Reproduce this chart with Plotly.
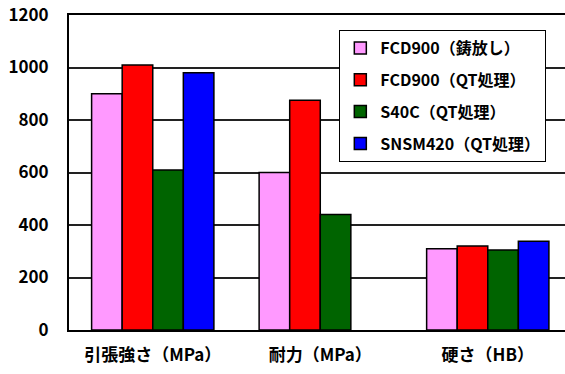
import plotly.graph_objects as go

# Mechanical properties by material
categories = ["引張強さ（MPa）", "耐力（MPa）", "硬さ（HB）"]
series_names = ["FCD900（鋳放し）", "FCD900（QT処理）", "S40C（QT処理）", "SNSM420（QT処理）"]
fcd900_cast = [900, 600, 310]
fcd900_qt = [1010, 875, 320]
s40c_qt = [610, 440, 305]
snsm420_qt = [980, None, 338]
series_colors = ["#ff99ff", "#ff0000", "#006400", "#0000ff"]
y_ticks = [0, 200, 400, 600, 800, 1000, 1200]

font_family = "Noto Sans CJK JP"

fig = go.Figure()
for i, (name, vals, color) in enumerate(
    zip(series_names, [fcd900_cast, fcd900_qt, s40c_qt, snsm420_qt], series_colors)
):
    fig.add_trace(
        go.Bar(
            x=categories,
            y=vals,
            name=name,
            legendgroup=f"g{i}",
            marker=dict(color=color, line=dict(color="black", width=1.5)),
        )
    )

fig.update_layout(
    width=565,
    height=374,
    margin=dict(l=69, r=0, t=15, b=44),
    paper_bgcolor="white",
    plot_bgcolor="white",
    barmode="group",
    bargap=0.27,
    bargroupgap=0,
    font=dict(family=font_family, color="black", size=16),
    showlegend=True,
    legend=dict(
        x=0.545,
        y=0.952,
        xanchor="left",
        yanchor="top",
        bgcolor="white",
        bordercolor="black",
        borderwidth=1,
        font=dict(family=font_family, size=16, color="black", weight="bold"),
        traceorder="grouped",
        tracegroupgap=8,
        itemwidth=30,
    ),
)

fig.update_xaxes(
    range=[-0.5, 2.461],
    showline=True,
    linecolor="black",
    linewidth=2,
    mirror=True,
    ticks="",
    tickfont=dict(family=font_family, size=17, weight="bold"),
    ticklabelstandoff=9,
    showgrid=False,
)

fig.update_yaxes(
    range=[0, 1200],
    tickvals=y_ticks,
    showline=True,
    linecolor="black",
    linewidth=2,
    mirror=False,
    showgrid=True,
    gridcolor="#222222",
    gridwidth=1.5,
    zeroline=False,
    ticks="",
    tickfont=dict(family=font_family, size=17, weight="bold"),
    ticklabelstandoff=15,
)

fig.write_html("out.html")
